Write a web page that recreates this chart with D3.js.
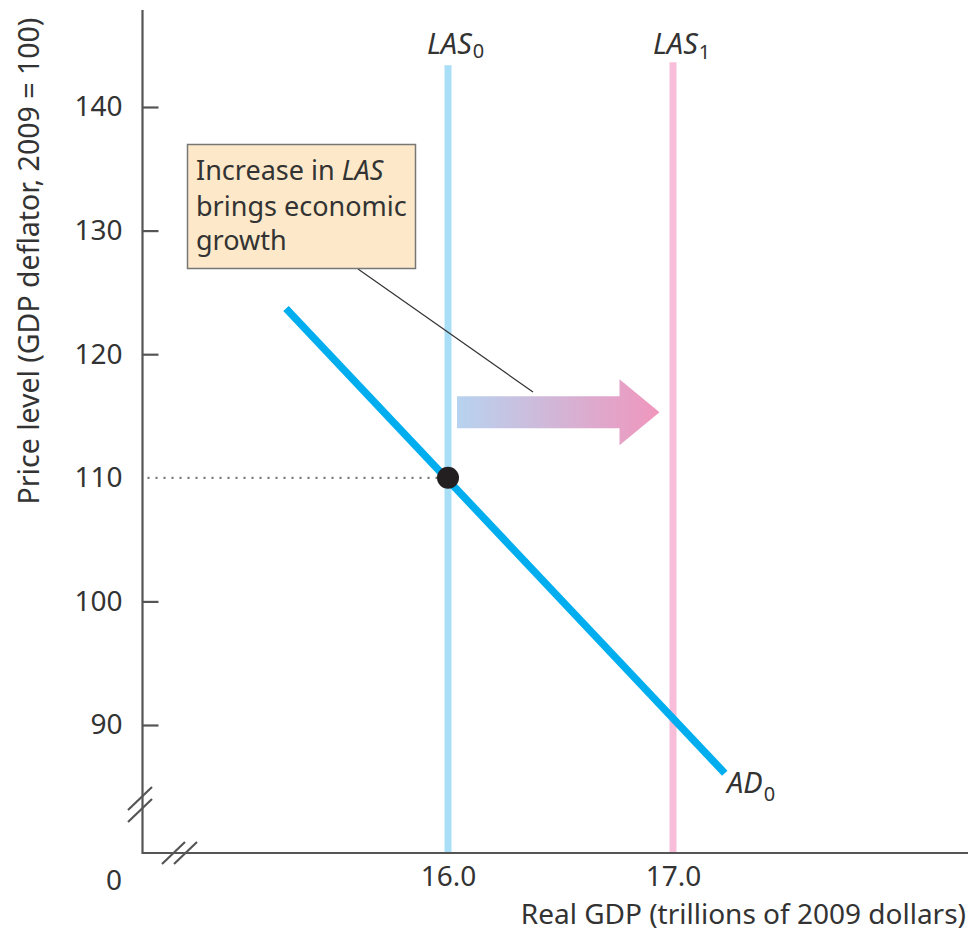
<!DOCTYPE html>
<html><head><meta charset="utf-8">
<script src="https://cdn.jsdelivr.net/npm/d3@7"></script>
<style>body{margin:0;background:#fff}svg{display:block}text{font-family:"Noto Sans",sans-serif;fill:#333}</style>
</head><body><svg id="c" width="973" height="933"></svg>
<script>
const yTicks = [90, 100, 110, 120, 130, 140];
const yTickMarks = [90, 100, 120, 130, 140];
const xTicks = [16.0, 17.0];
const ad0 = [[15.28, 123.7], [17.23, 86.1]];
const las0 = 16.0, las1 = 17.0;
const lasTop = 143.3;
const equilibrium = {x: 16.0, y: 110};
const arrowX = [16.04, 16.94];
const arrowY = 115.3;

const svg = d3.select("#c");
const x = d3.scaleLinear().domain([16, 17]).range([448, 673]);
const y = d3.scaleLinear().domain([90, 140]).range([725, 107]);
const X0 = 142.5, Y0 = 853, XR = 968, YT = 10;
const FONT = "'Noto Sans',sans-serif";

const defs = svg.append("defs");
const g = defs.append("linearGradient").attr("id","ag").attr("x1","0%").attr("x2","100%");
g.append("stop").attr("offset","0%").attr("stop-color","#b7d3ef");
g.append("stop").attr("offset","100%").attr("stop-color","#f096bd");

// LAS lines
svg.append("line").attr("x1",x(las0)).attr("x2",x(las0)).attr("y1",y(lasTop)-1).attr("y2",Y0)
  .attr("stroke","#a9def7").attr("stroke-width",7);
svg.append("line").attr("x1",x(las1)).attr("x2",x(las1)).attr("y1",y(lasTop)-4).attr("y2",Y0)
  .attr("stroke","#f8bdd8").attr("stroke-width",7);

// dotted line
svg.append("line").attr("x1",X0+5).attr("x2",x(equilibrium.x)).attr("y1",y(equilibrium.y)).attr("y2",y(equilibrium.y))
  .attr("stroke","#777").attr("stroke-width",2.2).attr("stroke-dasharray","2,6");

// arrow
const ay = y(arrowY), ax0 = x(arrowX[0]), ax1 = x(arrowX[1]);
const hw = 16, headW = 33, headL = 40;
svg.append("path").attr("d",
  `M${ax0},${ay-hw}L${ax1-headL},${ay-hw}L${ax1-headL},${ay-headW}L${ax1},${ay}L${ax1-headL},${ay+headW}L${ax1-headL},${ay+hw}L${ax0},${ay+hw}Z`)
  .attr("fill","url(#ag)");

// AD line
svg.append("path").datum(ad0).attr("d", d3.line().x(d=>x(d[0])).y(d=>y(d[1])))
  .attr("stroke","#00aeef").attr("stroke-width",7.5).attr("fill","none");

// point
svg.append("circle").attr("cx",x(equilibrium.x)).attr("cy",y(equilibrium.y)).attr("r",11).attr("fill","#231f20");

// leader line
svg.append("line").attr("x1",358).attr("y1",269).attr("x2",533).attr("y2",392).attr("stroke","#333").attr("stroke-width",1.2);

// callout box
svg.append("rect").attr("x",187.5).attr("y",144.5).attr("width",228).attr("height",124)
  .attr("fill","#fde9c9").attr("stroke","#777").attr("stroke-width",1.5);
const cb = svg.append("text").attr("font-size",27);
const l1 = cb.append("tspan").attr("x",196).attr("y",180);
l1.append("tspan").text("Increase in ");
l1.append("tspan").attr("font-style","italic").text("LAS");
cb.append("tspan").attr("x",196).attr("y",216).text("brings economic");
cb.append("tspan").attr("x",196).attr("y",250).text("growth");

// axes
svg.append("path").attr("d",`M${X0},${YT}L${X0},${Y0}L${XR},${Y0}`).attr("fill","none").attr("stroke","#555").attr("stroke-width",2.2);
const yAx = svg.append("g").attr("transform",`translate(${X0},0)`)
  .call(d3.axisLeft(y).tickValues(yTicks).tickSize(-16).tickPadding(20));
yAx.select(".domain").remove();
yAx.selectAll(".tick line").attr("stroke","#555").attr("stroke-width",2.2)
  .filter(d=>!yTickMarks.includes(d)).remove();
yAx.selectAll(".tick text").attr("font-size",28).attr("font-family",FONT).attr("fill","#333");

const xAx = svg.append("g").attr("transform",`translate(0,${Y0})`)
  .call(d3.axisBottom(x).tickValues(xTicks).tickSize(0).tickPadding(13).tickFormat(d3.format(".1f")));
xAx.select(".domain").remove();
xAx.selectAll(".tick text").attr("font-size",28).attr("font-family",FONT).attr("fill","#333");

svg.append("text").attr("x",114).attr("y",890).attr("text-anchor","middle").attr("font-size",28).text("0");

// breaks
const brk = [[128,810,152,787],[128,822,152,799],[162,864,185,842],[174,864,197,842]];
svg.selectAll(".brk").data(brk).enter().append("line")
  .attr("x1",d=>d[0]).attr("y1",d=>d[1]).attr("x2",d=>d[2]).attr("y2",d=>d[3])
  .attr("stroke","#555").attr("stroke-width",2.2);

// axis titles
svg.append("text").attr("transform","translate(39,261) rotate(-90)").attr("text-anchor","middle")
  .attr("font-size",28.5).text("Price level (GDP deflator, 2009 = 100)");
svg.append("text").attr("x",966).attr("y",924).attr("text-anchor","end").attr("font-size",28)
  .text("Real GDP (trillions of 2009 dollars)");

// curve labels
function lab(xp, yp, main, sub, dy){
  const t = svg.append("text").attr("x",xp).attr("y",yp).attr("font-size",29).attr("font-style","italic");
  t.append("tspan").text(main);
  t.append("tspan").attr("font-size",20).attr("font-style","normal").attr("dx",1).attr("dy",dy).text(sub);
}
lab(427, 54, "LAS", "0", 4);
lab(653, 54, "LAS", "1", 5);
lab(727, 793, "AD", "0", 8);
</script></body></html>
